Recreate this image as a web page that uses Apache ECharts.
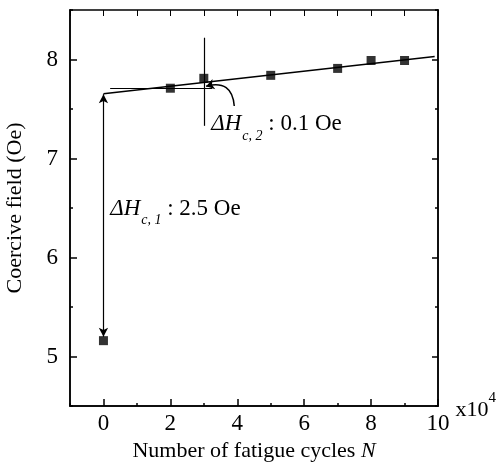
<!DOCTYPE html>
<html>
<head>
<meta charset="utf-8">
<script src="https://cdn.jsdelivr.net/npm/echarts@6/dist/echarts.min.js"></script>
<style>html,body{margin:0;padding:0;background:#fff}#c{width:499px;height:464px}</style>
</head>
<body>
<div id="c"></div>
<script>
// ---- data ----
const cycles = [0, 2, 3, 5, 7, 8, 9];            // x10^4
const coercive = [5.16, 7.71, 7.81, 7.84, 7.91, 7.99, 7.99]; // Oe
const fitX = [0, 9.9];
const fitY = [7.655, 8.03];
const xMajorTicks = [0, 2, 4, 6, 8, 10];
const yMajorTicks = [5, 6, 7, 8];
// annotation geometry (data coords)
const hRefLine = [[0.2, 7.705], [3.25, 7.705]];
const vRefLine = [[3, 8.22], [3, 7.33]];
const dHc1Arrow = [[0, 7.65], [0, 5.2]];
const dHc2Curve = [[3.91, 7.53], [3.07, 7.73]];
const dHc2Text = [3.22, 7.33];
const dHc1Text = [0.2, 6.48];

const FONT = 'Liberation Serif';
const chart = echarts.init(document.getElementById('c'), null, {renderer: 'canvas'});

const noLabel = () => '';
function xAx(extra) {
  return Object.assign({type: 'value', min: -1, max: 10, splitLine: {show: false}}, extra);
}
function yAx(extra) {
  return Object.assign({type: 'value', min: 4.5, max: 8.5, splitLine: {show: false}}, extra);
}
function aLine(show) { return {show: show, onZero: false, lineStyle: {color: '#000', width: 1.5}}; }
function aTick(len, custom) {
  const t = {show: true, inside: true, length: len, lineStyle: {color: '#000', width: 1.5}};
  if (custom) t.customValues = custom;
  return t;
}

const option = {
  animation: false,
  backgroundColor: '#fff',
  textStyle: {fontFamily: FONT, color: '#000'},
  grid: {left: 70, right: 61, top: 10, bottom: 58, outerBoundsMode: 'none', containLabel: false},
  xAxis: [
    xAx({
      position: 'bottom',
      axisLine: aLine(true),
      axisTick: aTick(7, xMajorTicks),
      axisLabel: {show: true, customValues: xMajorTicks, fontFamily: FONT, fontSize: 23, color: '#000', margin: 6},
      name: '{a|x10}{b|4}',
      nameLocation: 'end',
      nameGap: 0,
      nameTextStyle: {rich: {
        a: {fontFamily: FONT, fontSize: 22, color: '#000', verticalAlign: 'bottom', padding: [8, 0, 0, 0]},
        b: {fontFamily: FONT, fontSize: 15, color: '#000', verticalAlign: 'top', padding: [0, 0, 10, 0]}
      }}
    }),
    xAx({
      position: 'bottom',
      interval: 2,
      axisLine: aLine(true),
      axisTick: aTick(3),
      axisLabel: {show: true, formatter: noLabel},
      name: 'Number of fatigue cycles {n|N}',
      nameLocation: 'middle',
      nameGap: 34,
      nameTextStyle: {fontFamily: FONT, fontSize: 22, color: '#000',
        rich: {n: {fontFamily: FONT, fontSize: 22, fontStyle: 'italic', color: '#000'}}}
    }),
    xAx({
      position: 'top',
      interval: 1,
      axisLine: {show: true, onZero: false, lineStyle: {color: '#000', width: 1.5}},
      axisTick: {show: true, inside: true, length: 6},
      axisLabel: {show: true, formatter: noLabel}
    })
  ],
  yAxis: [
    yAx({
      position: 'left',
      axisLine: aLine(true),
      axisTick: aTick(7, yMajorTicks),
      axisLabel: {show: true, customValues: yMajorTicks, fontFamily: FONT, fontSize: 23, color: '#000', margin: 12},
      name: 'Coercive field (Oe)',
      nameLocation: 'middle',
      nameGap: 44,
      nameTextStyle: {fontFamily: FONT, fontSize: 22, color: '#000'}
    }),
    yAx({
      position: 'left',
      interval: 1,
      axisLine: aLine(true),
      axisTick: aTick(3),
      axisLabel: {show: true, formatter: noLabel}
    }),
    yAx({
      position: 'right',
      axisLine: aLine(true),
      axisTick: aTick(6, yMajorTicks),
      axisLabel: {show: true, customValues: yMajorTicks, formatter: noLabel}
    }),
    yAx({
      position: 'right',
      interval: 1,
      axisLine: aLine(true),
      axisTick: aTick(3),
      axisLabel: {show: true, formatter: noLabel}
    })
  ],
  series: [
    {
      type: 'line',
      xAxisIndex: 0, yAxisIndex: 0,
      data: fitX.map((x, i) => [x, fitY[i]]),
      showSymbol: false,
      lineStyle: {color: '#000', width: 1.5},
      z: 2,
      markLine: {
        silent: true,
        symbolSize: [7, 9],
        label: {show: false},
        lineStyle: {color: '#000', width: 1.2, type: 'solid'},
        data: [
          [{coord: hRefLine[0], symbol: 'none'}, {coord: hRefLine[1], symbol: 'none'}],
          [{coord: vRefLine[0], symbol: 'none'}, {coord: vRefLine[1], symbol: 'none'}],
          [{coord: dHc1Arrow[0], symbol: 'arrow'}, {coord: dHc1Arrow[1], symbol: 'arrow'}]
        ]
      }
    },
    {
      type: 'lines',
      coordinateSystem: 'cartesian2d',
      xAxisIndex: 0, yAxisIndex: 0,
      symbol: ['none', 'arrow'],
      symbolSize: 8,
      silent: true,
      lineStyle: {color: '#000', width: 1.5, opacity: 1, curveness: -0.6},
      data: [{coords: dHc2Curve}]
    },
    {
      type: 'scatter',
      xAxisIndex: 0, yAxisIndex: 0,
      data: cycles.map((x, i) => [x, coercive[i]]),
      symbol: 'rect',
      symbolSize: 9,
      itemStyle: {color: '#000'},
      z: 3
    }
  ]
};
chart.setOption(option);

function annotText(coord, sub, rest) {
  const p = chart.convertToPixel({xAxisIndex: 0, yAxisIndex: 0}, coord);
  return {
    type: 'text', x: p[0], y: p[1], silent: true,
    style: {
      text: '{d|ΔH}{s|' + sub + '}{n|' + rest + '}',
      align: 'left', verticalAlign: 'middle',
      rich: {
        d: {fontFamily: FONT, fontSize: 23, fontStyle: 'italic', fill: '#000', verticalAlign: 'top', lineHeight: 26},
        s: {fontFamily: FONT, fontSize: 14, fontStyle: 'italic', fill: '#000', verticalAlign: 'top', lineHeight: 16, padding: [16, 0, 0, 1]},
        n: {fontFamily: FONT, fontSize: 23, fill: '#000', verticalAlign: 'top', lineHeight: 26}
      }
    }
  };
}
chart.setOption({graphic: [
  annotText(dHc2Text, 'c, 2', ' : 0.1 Oe'),
  annotText(dHc1Text, 'c, 1', ' : 2.5 Oe')
]});
</script>
</body>
</html>
